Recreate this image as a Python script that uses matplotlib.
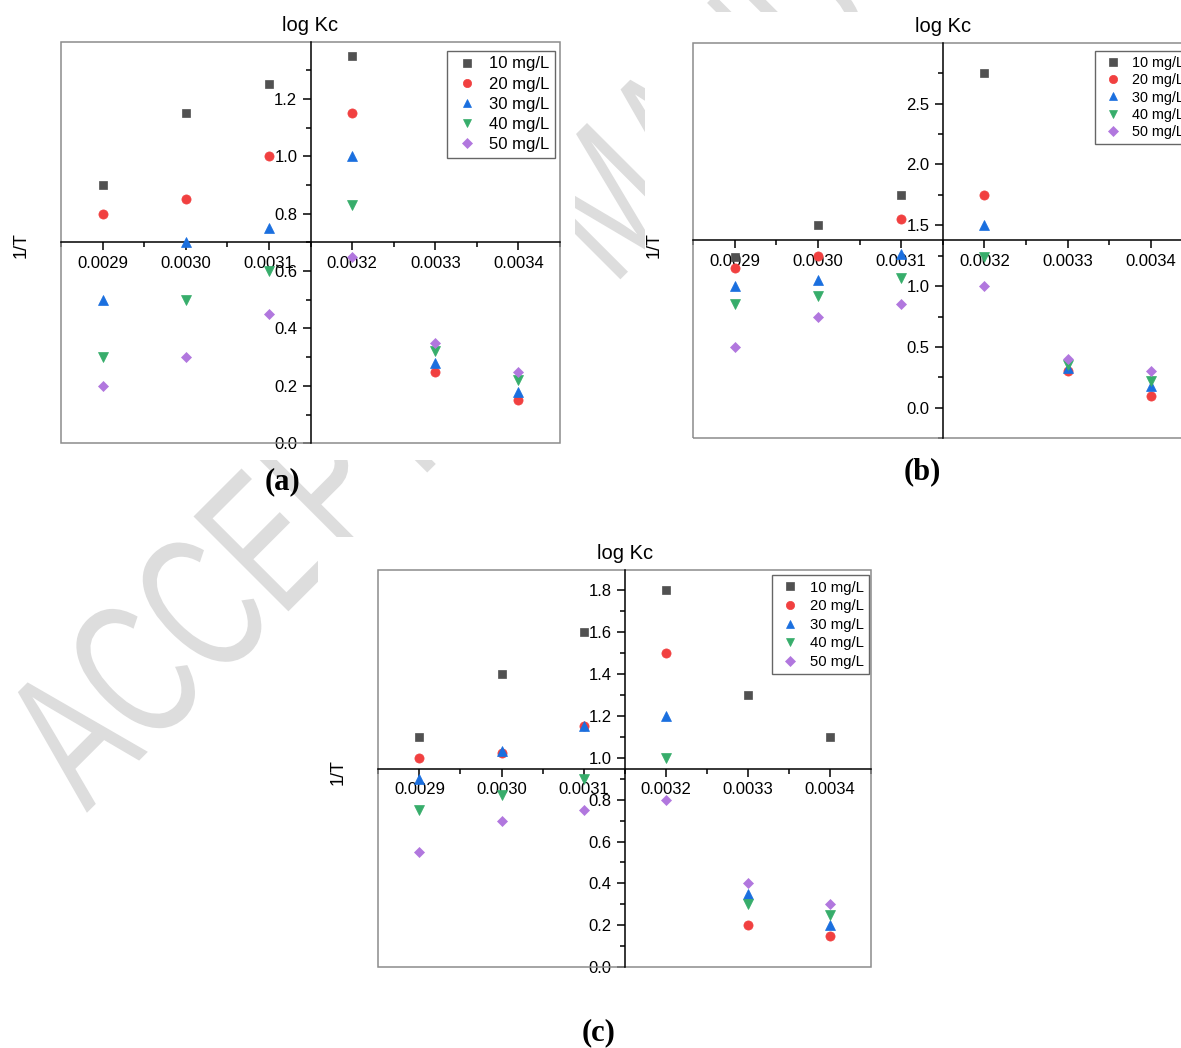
import numpy as np
import matplotlib
matplotlib.use("Agg")
import matplotlib.pyplot as plt
from matplotlib.ticker import MultipleLocator, FormatStrFormatter
from matplotlib.patches import Rectangle, PathPatch
from matplotlib.textpath import TextPath
from matplotlib.font_manager import FontProperties
from matplotlib.transforms import Affine2D

plt.rcParams["font.family"] = ["Liberation Sans", "DejaVu Sans"]

# 1/T values shared by every panel
inv_T = [0.0029, 0.0030, 0.0031, 0.0032, 0.0033, 0.0034]
conc_labels = ["10 mg/L", "20 mg/L", "30 mg/L", "40 mg/L", "50 mg/L"]
nan = np.nan

# panel (a) log Kc
a_10 = [0.90, 1.15, 1.25, 1.35, nan, nan]
a_20 = [0.80, 0.85, 1.00, 1.15, 0.25, 0.15]
a_30 = [0.50, 0.70, 0.75, 1.00, 0.28, 0.18]
a_40 = [0.30, 0.50, 0.60, 0.83, 0.32, 0.22]
a_50 = [0.20, 0.30, 0.45, 0.65, 0.35, 0.25]

# panel (b) log Kc
b_10 = [1.24, 1.50, 1.75, 2.75, nan, nan]
b_20 = [1.15, 1.25, 1.55, 1.75, 0.30, 0.10]
b_30 = [1.00, 1.05, 1.26, 1.50, 0.33, 0.18]
b_40 = [0.85, 0.92, 1.07, 1.24, 0.35, 0.22]
b_50 = [0.50, 0.75, 0.85, 1.00, 0.40, 0.30]

# panel (c) log Kc
c_10 = [1.10, 1.40, 1.60, 1.80, 1.30, 1.10]
c_20 = [1.00, 1.02, 1.15, 1.50, 0.20, 0.15]
c_30 = [0.90, 1.03, 1.15, 1.20, 0.35, 0.20]
c_40 = [0.75, 0.82, 0.90, 1.00, 0.30, 0.25]
c_50 = [0.55, 0.70, 0.75, 0.80, 0.40, 0.30]

colors = ["#515151", "#F14040", "#1A6FDF", "#37AD6B", "#B177DE"]
markers = ["s", "o", "^", "v", "D"]
msizes = [6.0, 6.6, 7.0, 7.0, 5.6]

W, H = 1181, 1048
fig = plt.figure(figsize=(W / 100, H / 100), dpi=100)


def px_rect(l, t, r, b):
    # pixel box (origin top-left) -> figure fraction rect
    return [l / W, 1 - b / H, (r - l) / W, (b - t) / H]


# diagonal watermark behind the three plots
tp = TextPath((0, 0), "ACCEPTED MANUSCRIPT", size=100,
              prop=FontProperties(family="Liberation Sans"))
wm = Affine2D().scale(1.3, 1.95).rotate_deg(45)
cx, cy = wm.transform((33.3, 35.8))
wm.translate(68 - cx, (H - 733) - cy)
fig.add_artist(PathPatch(tp, transform=wm + Affine2D().scale(1 / 100) + fig.dpi_scale_trans,
                         facecolor="#dddddd", edgecolor="none", zorder=-2))

# opaque white backgrounds of the three plot images
for l, t, r, b in [(0, 0, 575, 460), (645, 12, W, 460), (318, 537, W, H)]:
    fig.add_artist(Rectangle((l / W, 1 - b / H), (r - l) / W, (b - t) / H,
                             transform=fig.transFigure, facecolor="white",
                             edgecolor="none", zorder=-1))


def draw_panel(rect, series, ylim, ycross, ymajor, yminor, leg_xy, leg_fs, leg_sp):
    ax = fig.add_axes(rect)
    for vals, lab, mk, ms, col in zip(series, conc_labels, markers, msizes, colors):
        ax.plot(inv_T, vals, ls="none", marker=mk, ms=ms, color=col, mec=col,
                mew=0.5, label=lab, zorder=3, clip_on=False)

    ax.set_xlim(0.00285, 0.00345)
    ax.set_ylim(*ylim)
    ax.xaxis.set_major_locator(MultipleLocator(0.0001))
    ax.xaxis.set_minor_locator(MultipleLocator(0.00005))
    ax.xaxis.set_major_formatter(FormatStrFormatter("%.4f"))
    ax.yaxis.set_major_locator(MultipleLocator(ymajor))
    ax.yaxis.set_minor_locator(MultipleLocator(yminor))
    ax.yaxis.set_major_formatter(FormatStrFormatter("%.1f"))

    # axes cross in the middle of the frame
    ax.spines["left"].set_position(("data", 0.00315))
    ax.spines["bottom"].set_position(("data", ycross))
    for s in ("left", "bottom"):
        ax.spines[s].set_linewidth(1.1)
    ax.spines[["top", "right"]].set_visible(False)
    ax.add_patch(Rectangle((0, 0), 1, 1, transform=ax.transAxes, fill=False,
                           ec="#8c8c8c", lw=1.1, clip_on=False, zorder=2))

    ax.tick_params(which="major", direction="out", length=6, width=1.1, labelsize=12, pad=3.5)
    ax.tick_params(which="minor", direction="out", length=3.3, width=1.1)

    ax.set_title("log Kc", fontsize=14.5, pad=8)

    leg = ax.legend(loc="upper left", bbox_to_anchor=leg_xy, borderaxespad=0,
                    fontsize=leg_fs, frameon=True, fancybox=False, edgecolor="#666666",
                    framealpha=1, borderpad=0.35, handlelength=1.7, handletextpad=0.5,
                    labelspacing=leg_sp, markerscale=0.9)
    leg.get_frame().set_linewidth(1.0)
    return ax


draw_panel(px_rect(61, 41.7, 560, 443.3), [a_10, a_20, a_30, a_40, a_50],
           (0, 1.399), 0.70, 0.2, 0.1, (0.773, 0.978), 12, 0.31)
draw_panel(px_rect(693.2, 43.3, 1192.3, 438.3), [b_10, b_20, b_30, b_40, b_50],
           (-0.25, 2.995), 1.375, 0.5, 0.25, (0.806, 0.981), 10.4, 0.23)
draw_panel(px_rect(378.4, 570.3, 870.9, 967.3), [c_10, c_20, c_30, c_40, c_50],
           (0, 1.894), 0.947, 0.2, 0.1, (0.799, 0.987), 10.7, 0.31)

for x, y in [(21, 245), (654, 245), (338.5, 772)]:
    fig.text(x / W, 1 - y / H, "1/T", rotation=90, ha="center", va="center", fontsize=13)

for x, y, lab in [(283, 482, "(a)"), (922, 472, "(b)"), (598.5, 1033, "(c)")]:
    fig.text(x / W, 1 - y / H, lab, ha="center", va="center", fontsize=22,
             fontweight="bold", family="Liberation Serif")

fig.savefig("out.png", dpi=100)
